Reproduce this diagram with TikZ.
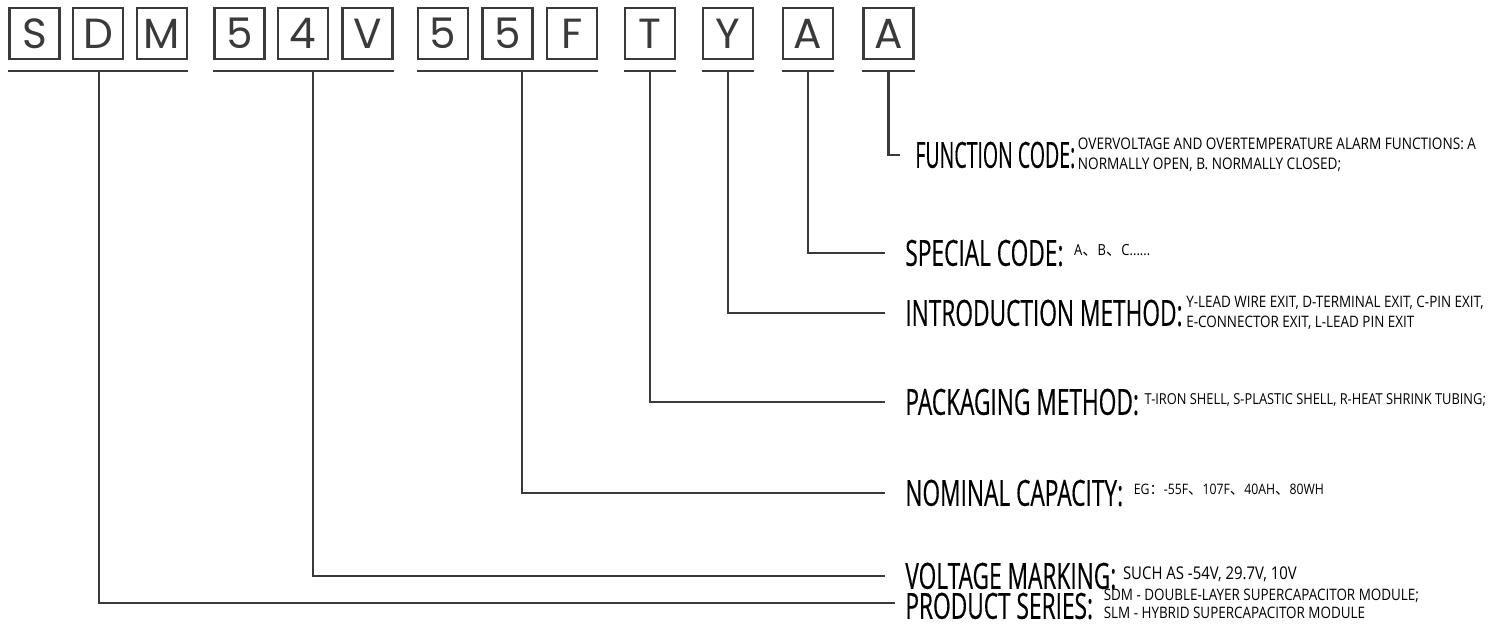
\documentclass[tikz,border=0pt]{standalone}
\usepackage{fontspec}
\usepackage{tikz}
\usetikzlibrary{calc,positioning}
\setmainfont{Open Sans}
\newfontfamily\codefont{Poppins}
\newfontfamily\labfont[FakeStretch=0.63,FakeBold=0.35]{Open Sans}
\newfontfamily\notefont[FakeStretch=0.85]{Open Sans}
\newfontfamily\cjkfont{Noto Sans CJK SC}
\newcommand{\dun}{{\cjkfont 、}}
\definecolor{linegray}{HTML}{3A3A3A}

\tikzset{
  codebox/.style={draw=linegray, line width=1.4pt, minimum width=1cm, minimum height=1.02cm,
    inner sep=0pt, text=linegray, font=\codefont\fontsize{24}{24}\selectfont},
  leader/.style={draw=linegray, line width=1.2pt},
  bigtext/.style={anchor=west, inner sep=0pt, font=\labfont\fontsize{20.5}{20.5}\selectfont},
  smalltext/.style={anchor=west, inner sep=0pt, align=left, font=\notefont\fontsize{8.7}{11}\selectfont}
}

\begin{document}
\begin{tikzpicture}[x=0.02cm, y=-0.02cm]
        \useasboundingbox (0,0) rectangle (1501,624);

        % клітинки коду SDM 54V 55F T Y A A
        \node[codebox] (cS)  at (34.5,33.5) {S};
        \node[codebox] (cD)  at (98,33.5)   {D};
        \node[codebox] (cM)  at (162,33.5)  {M};
        \node[codebox] (cU1) at (239.5,33.5) {5};
        \node[codebox] (cU2) at (303,33.5)  {4};
        \node[codebox] (cV)  at (367.5,33.5) {V};
        \node[codebox] (cC1) at (443,33.5)  {5};
        \node[codebox] (cC2) at (507.5,33.5) {5};
        \node[codebox] (cF)  at (572,33.5)  {F};
        \node[codebox] (cT)  at (650,33.5)  {T};
        \node[codebox] (cY)  at (728,33.5)  {Y};
        \node[codebox] (cA1) at (808,33.5)  {A};
        \node[codebox] (cA2) at (888.5,33.5) {A};

        % підписи праворуч
        \node[bigtext] (lbFC) at (915,155) {\scalebox{0.86}[1]{FUNCTION CODE:}};
        \node[bigtext] (lbSC) at (905,253) {SPECIAL CODE:};
        \node[bigtext] (lbIM) at (905,313) {INTRODUCTION METHOD:};
        \node[bigtext] (lbPM) at (905,402) {PACKAGING METHOD:};
        \node[bigtext] (lbNC) at (905,493) {NOMINAL CAPACITY:};
        \node[bigtext] (lbVM) at (905,576) {VOLTAGE MARKING:};
        \node[bigtext] (lbPS) at (905,606) {PRODUCT SERIES:};

        \node[smalltext, font=\notefont\fontsize{9.1}{11.5}\selectfont] (dFC) at ($(lbFC.east)+(2,0)$) {OVERVOLTAGE AND OVERTEMPERATURE ALARM FUNCTIONS: A\\NORMALLY OPEN, B. NORMALLY CLOSED;};
        \node[smalltext] (dSC) at ($(lbSC.east)+(10,-3)$) {A\dun B\dun C......};
        \node[smalltext, font=\notefont\fontsize{9}{11.5}\selectfont] (dIM) at ($(lbIM.east)+(3,0)$) {Y-LEAD WIRE EXIT, D-TERMINAL EXIT, C-PIN EXIT,\\E-CONNECTOR EXIT, L-LEAD PIN EXIT};
        \node[smalltext, font=\notefont\fontsize{8.6}{11}\selectfont] (dPM) at ($(lbPM.east)+(5,-2)$) {T-IRON SHELL, S-PLASTIC SHELL, R-HEAT SHRINK TUBING;};
        \node[smalltext, font=\notefont\fontsize{8.2}{11}\selectfont] (dNC) at ($(lbNC.east)+(10,-3)$) {EG{\cjkfont ：}-55F\dun 107F\dun 40AH\dun 80WH};
        \node[smalltext, font=\notefont\fontsize{10}{11}\selectfont] (dVM) at ($(lbVM.east)+(6,-2)$) {SUCH AS -54V, 29.7V, 10V};
        \node[smalltext, font=\notefont\fontsize{9}{10.6}\selectfont] (dPS) at ($(lbPS.east)+(10,-2)$) {SDM - DOUBLE-LAYER SUPERCAPACITOR MODULE;\\SLM - HYBRID SUPERCAPACITOR MODULE};

        % дужки під групами
        \draw[leader] (cS.south west |- 0,71) -- (cM.south east |- 0,71);
        \draw[leader] (cU1.south west |- 0,71) -- (cV.south east |- 0,71);
        \draw[leader] (cC1.south west |- 0,71) -- (cF.south east |- 0,71);
        \draw[leader] (cT.south west |- 0,71) -- (cT.south east |- 0,71);
        \draw[leader] (cY.south west |- 0,71) -- (cY.south east |- 0,71);
        \draw[leader] (cA1.south west |- 0,71) -- (cA1.south east |- 0,71);
        \draw[leader] (cA2.south west |- 0,71) -- (cA2.south east |- 0,71);

        \coordinate (gS) at (98.6,71);
        \coordinate (gU) at (313,71);
        \coordinate (gC) at (522,71);

        % виноски до підписів
        \draw[leader] (cA2.center |- 0,71) |- ($(lbFC.west)+(-15,0)$);
        \draw[leader] (cA1.center |- 0,71) |- ($(lbSC.west)+(-20,0)$);
        \draw[leader] (cY.center |- 0,71) |- ($(lbIM.west)+(-20,0)$);
        \draw[leader] (cT.center |- 0,71) |- ($(lbPM.west)+(-20,0)$);
        \draw[leader] (gC) |- ($(lbNC.west)+(-20,0)$);
        \draw[leader] (gU) |- ($(lbVM.west)+(-20,0)$);
        \draw[leader] (gS) |- ($(lbPS.west)+(-10,-3)$);

    \end{tikzpicture}
\end{document}
